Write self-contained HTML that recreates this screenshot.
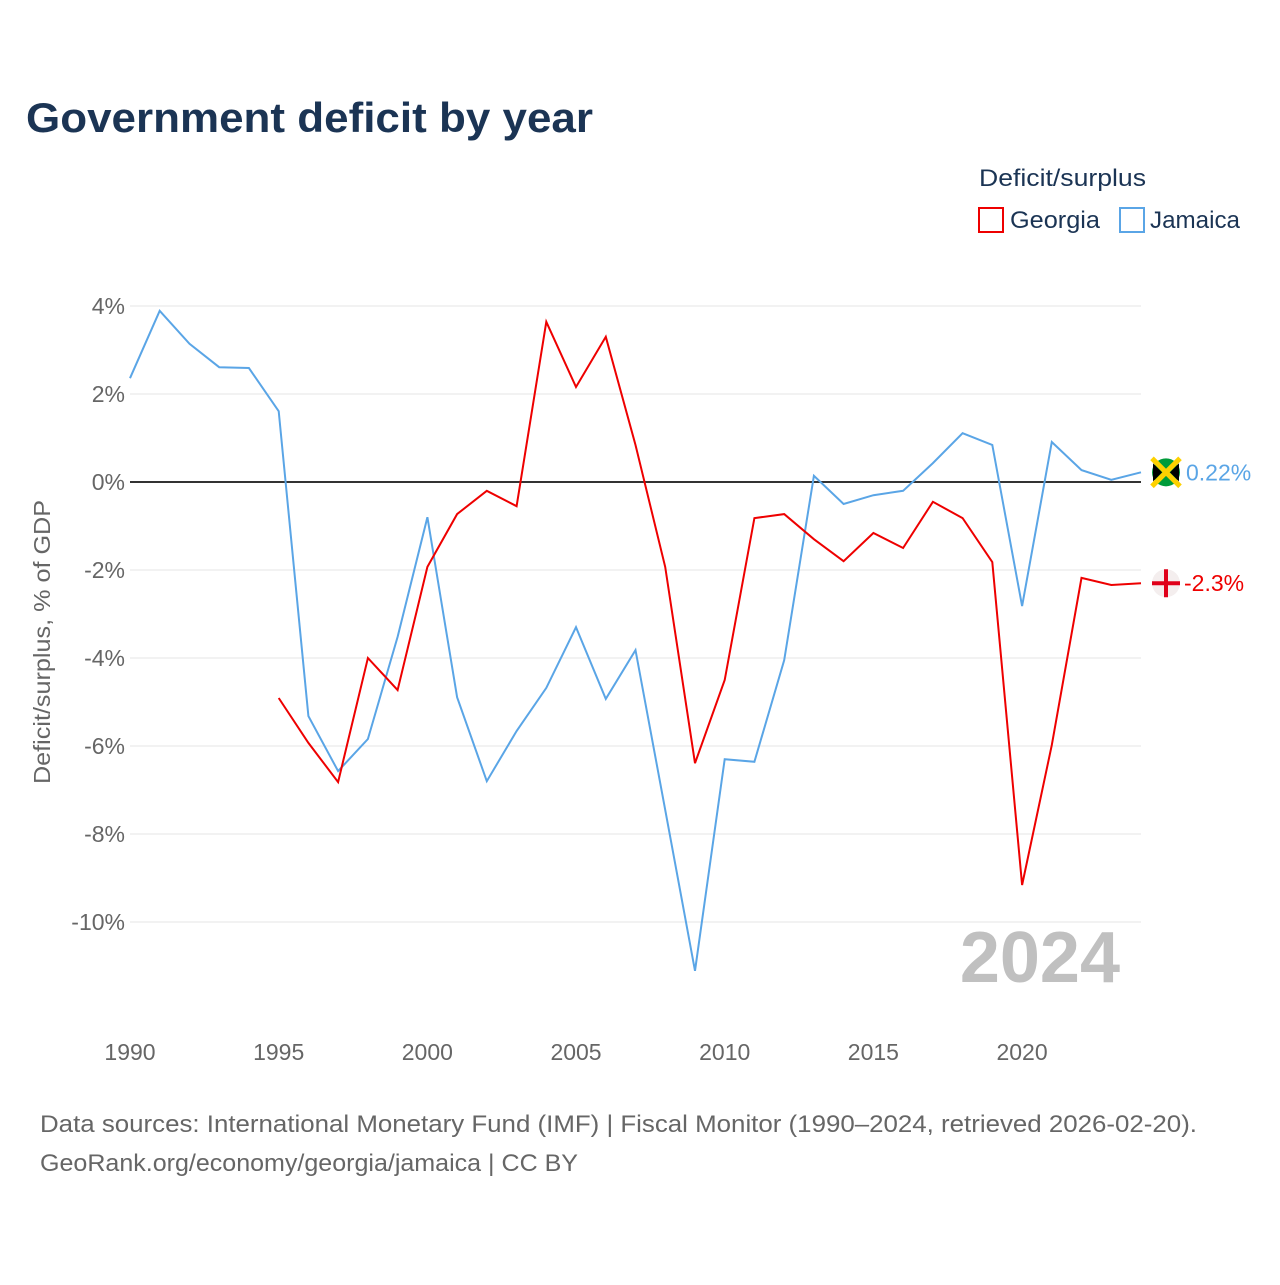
<!DOCTYPE html>
<html><head><meta charset="utf-8"><style>
body{margin:0;background:#fff;font-family:"Liberation Sans",sans-serif}
svg text{font-family:"Liberation Sans",sans-serif}
</style></head><body>
<svg width="1280" height="1280" viewBox="0 0 1280 1280">
<text x="26" y="132" font-size="42" font-weight="bold" fill="#1b3454" textLength="567" lengthAdjust="spacingAndGlyphs">Government deficit by year</text>
<text x="979" y="186" font-size="24" fill="#1b3454" textLength="167" lengthAdjust="spacingAndGlyphs">Deficit/surplus</text>
<g><rect x="979" y="208" width="24" height="24" fill="none" stroke="#e00" stroke-width="2"/><text x="1010" y="228" font-size="24" fill="#1b3454" textLength="90" lengthAdjust="spacingAndGlyphs">Georgia</text></g>
<g><rect x="1120" y="208" width="24" height="24" fill="none" stroke="#5aa5e6" stroke-width="2"/><text x="1150" y="228" font-size="24" fill="#1b3454" textLength="90" lengthAdjust="spacingAndGlyphs">Jamaica</text></g>
<g id="grid"></g>
<text x="1120" y="982" font-size="72" font-weight="bold" fill="#c0c0c0" text-anchor="end">2024</text>
<g id="plot"></g>
<text transform="translate(50,642) rotate(-90)" font-size="23" fill="#666" text-anchor="middle" textLength="284" lengthAdjust="spacingAndGlyphs">Deficit/surplus, % of GDP</text>
<text x="40" y="1132" font-size="24" fill="#666" textLength="1157" lengthAdjust="spacingAndGlyphs">Data sources: International Monetary Fund (IMF) | Fiscal Monitor (1990–2024, retrieved 2026-02-20).</text>
<text x="40" y="1171" font-size="24" fill="#666" textLength="538" lengthAdjust="spacingAndGlyphs">GeoRank.org/economy/georgia/jamaica | CC BY</text>
</svg>
<script>
const years=[];for(let y=1990;y<=2024;y++)years.push(y);
const jamaica=[2.36,3.89,3.14,2.61,2.59,1.61,-5.32,-6.57,-5.84,-3.52,-0.80,-4.89,-6.80,-5.66,-4.68,-3.30,-4.93,-3.82,-7.45,-11.11,-6.30,-6.36,-4.05,0.14,-0.50,-0.30,-0.20,0.43,1.11,0.84,-2.82,0.91,0.27,0.05,0.22];
const georgia=[null,null,null,null,null,-4.91,-5.93,-6.82,-4.00,-4.73,-1.93,-0.73,-0.20,-0.55,3.64,2.16,3.30,0.84,-1.93,-6.39,-4.50,-0.82,-0.73,-1.30,-1.80,-1.16,-1.50,-0.45,-0.82,-1.82,-9.16,-5.98,-2.18,-2.34,-2.30];
const yTicks=[4,2,0,-2,-4,-6,-8,-10];
const xTicks=[1990,1995,2000,2005,2010,2015,2020];
const X=y=>130+(y-1990)*(1141-130)/34;
const Y=v=>482-v*44;
const NS="http://www.w3.org/2000/svg";
function mk(tag,attrs,parent){const e=document.createElementNS(NS,tag);for(const k in attrs)e.setAttribute(k,attrs[k]);parent.appendChild(e);return e;}
const grid=document.getElementById('grid'),plot=document.getElementById('plot');
yTicks.forEach(v=>{
 const l=mk('line',{x1:130,x2:1141,y1:Y(v),y2:Y(v),stroke:v===0?'#333':'#e6e6e6','stroke-width':v===0?2:1},v===0?plot:grid);
 
 
 const t=mk('text',{x:125,y:Y(v)+8,'font-size':23,fill:'#666','text-anchor':'end'},grid);
 t.textContent=v+'%';
 
 
});
xTicks.forEach(yr=>{
 const t=mk('text',{x:X(yr),y:1060,'font-size':23,fill:'#666','text-anchor':'middle'},grid);
 t.textContent=yr;
 
 
});
function line(vals,color,name){
 let d='';vals.forEach((v,i)=>{if(v===null)return;d+=(d?'L':'M')+X(years[i]).toFixed(1)+','+Y(v).toFixed(1);});
 const p=mk('path',{d:d,fill:'none',stroke:color,'stroke-width':2},plot);
 
 
}
line(jamaica,'#5aa5e6','jamaica-line');
line(georgia,'#e00','georgia-line');
const jv=jamaica[jamaica.length-1],gv=georgia[georgia.length-1];
const jf=mk('g',{},plot);


const jy=Y(jv);
mk('circle',{cx:1166,cy:jy,r:14,fill:'#009b3a'},jf);
mk('path',{d:`M1152,${jy-14}L1180,${jy+14}M1180,${jy-14}L1152,${jy+14}`,stroke:'#fed100','stroke-width':5},jf);
mk('path',{d:`M1153,${jy-9}L1162,${jy}L1153,${jy+9}Z M1179,${jy-9}L1170,${jy}L1179,${jy+9}Z`,fill:'#000'},jf);
const jt=mk('text',{x:1186,y:jy+8,'font-size':23,fill:'#5aa5e6'},plot);
jt.textContent=jv.toFixed(2)+'%';


const gf=mk('g',{},plot);


const gy=Y(gv);
mk('circle',{cx:1166,cy:gy,r:14,fill:'#f4eeee'},gf);
mk('path',{d:`M1166,${gy-14}V${gy+14}M1152,${gy}H1180`,stroke:'#e0001a','stroke-width':4},gf);
const gt=mk('text',{x:1184,y:gy+8,'font-size':23,fill:'#e00'},plot);
gt.textContent=gv.toFixed(1)+'%';


</script>
</body></html>
